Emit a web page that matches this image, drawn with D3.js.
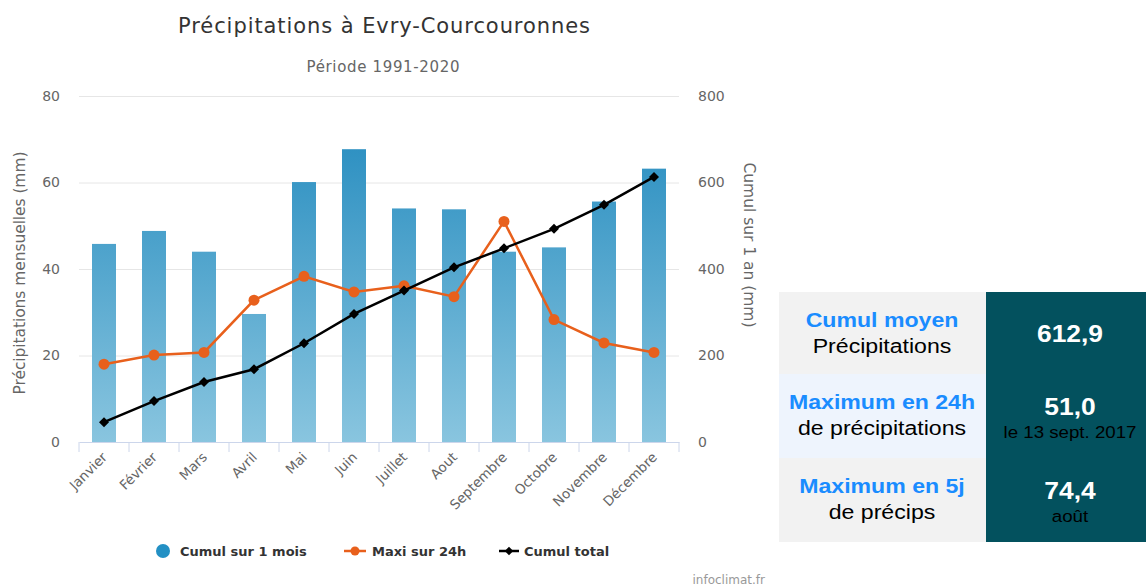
<!DOCTYPE html>
<html><head><meta charset="utf-8">
<script src="https://cdn.jsdelivr.net/npm/d3@7"></script>
<style>
html,body{margin:0;padding:0;background:#fff;}
svg{display:block;}
.ch{font-family:"DejaVu Sans",sans-serif;}
.pn{font-family:"Liberation Sans",Arial,sans-serif;}
</style></head>
<body>
<svg id="c" width="1146" height="588"></svg>
<script>
const months = ["Janvier","Février","Mars","Avril","Mai","Juin","Juillet","Aout","Septembre","Octobre","Novembre","Décembre"];
const cumulMois = [45.8,48.8,44.0,29.6,60.1,67.7,54.0,53.8,44.0,45.0,55.6,63.2];
const maxi24h = [18.0,20.1,20.7,32.8,38.3,34.7,36.1,33.6,51.0,28.3,22.9,20.7];
const cumulTotal = [45.8,94.6,138.6,168.2,228.3,296.0,350.0,403.8,447.8,492.8,548.4,612.9];
const leftTicks = [0,20,40,60,80];
const rightTicks = [0,200,400,600,800];
const legendItems = ["Cumul sur 1 mois","Maxi sur 24h","Cumul total"];
const panelRows = [
  {t1:"Cumul moyen", t2:"Précipitations", v:"612,9", s:""},
  {t1:"Maximum en 24h", t2:"de précipitations", v:"51,0", s:"le 13 sept. 2017"},
  {t1:"Maximum en 5j", t2:"de précips", v:"74,4", s:"août"}
];
const FONT = '"DejaVu Sans", sans-serif';

const svg = d3.select("#c");
svg.append("rect").attr("width",1146).attr("height",588).attr("fill","#fff");
const g = svg.append("g").attr("class","ch");

const pTop = 96, pBottom = 442, pLeft = 79, pRight = 679;
const x = d3.scaleBand().domain(months).range([pLeft,pRight]).padding(0);
const yL = d3.scaleLinear().domain([0,80]).range([pBottom,pTop]);
const yR = d3.scaleLinear().domain([0,800]).range([pBottom,pTop]);

const defs = svg.append("defs");
const grad = defs.append("linearGradient").attr("id","bg").attr("gradientUnits","userSpaceOnUse")
  .attr("x1",0).attr("y1",pTop).attr("x2",0).attr("y2",pBottom);
grad.append("stop").attr("offset","0%").attr("stop-color","#1f88bd");
grad.append("stop").attr("offset","100%").attr("stop-color","#89c5df");

g.append("text").attr("x",384).attr("y",32.5).attr("text-anchor","middle").attr("font-size",21).attr("fill","#333")
  .attr("textLength",412).attr("lengthAdjust","spacing").text("Précipitations à Evry-Courcouronnes");
g.append("text").attr("x",383).attr("y",72).attr("text-anchor","middle").attr("font-size",15).attr("fill","#666")
  .attr("textLength",153).attr("lengthAdjust","spacing").text("Période 1991-2020");

g.append("g").selectAll("line").data(leftTicks.filter(d=>d>0)).join("line")
  .attr("x1",pLeft).attr("x2",pRight).attr("y1",d=>yL(d)+0.5).attr("y2",d=>yL(d)+0.5)
  .attr("stroke","#e6e6e6").attr("stroke-width",1);

const ax = d3.axisLeft(yL).tickValues(leftTicks).tickSize(0).tickPadding(19);
const gl = g.append("g").attr("transform",`translate(${pLeft},0)`).call(ax)
  .attr("font-family",FONT).attr("font-size",14);
gl.select(".domain").remove();
gl.selectAll("text").attr("fill","#666");
const axr = d3.axisRight(yR).tickValues(rightTicks).tickSize(0).tickPadding(19);
const gr = g.append("g").attr("transform",`translate(${pRight},0)`).call(axr)
  .attr("font-family",FONT).attr("font-size",14);
gr.select(".domain").remove();
gr.selectAll("text").attr("fill","#666");

g.append("text").attr("transform","translate(25,273) rotate(-90)").attr("text-anchor","middle")
  .attr("font-size",15.5).attr("fill","#666").attr("textLength",243).attr("lengthAdjust","spacing").text("Précipitations mensuelles (mm)");
g.append("text").attr("transform","translate(744,245) rotate(90)").attr("text-anchor","middle")
  .attr("font-size",15.5).attr("fill","#666").attr("textLength",165).attr("lengthAdjust","spacing").text("Cumul sur 1 an (mm)");

const bw = 24;
g.append("g").selectAll("rect").data(months).join("rect")
  .attr("x",(d)=>x(d)+x.bandwidth()/2-bw/2).attr("width",bw)
  .attr("y",(d,i)=>yL(cumulMois[i])).attr("height",(d,i)=>pBottom-yL(cumulMois[i]))
  .attr("fill","url(#bg)");

const xa = d3.axisBottom(x).tickSize(10).tickSizeOuter(0).tickFormat(()=>"");
const gx = g.append("g").attr("transform",`translate(0,${pBottom})`).call(xa)
  .attr("font-family",FONT).attr("font-size",13.5);
gx.select(".domain").attr("stroke","#ccd6eb");
gx.selectAll(".tick line").attr("stroke","#ccd6eb").attr("transform",`translate(${-x.bandwidth()/2},0)`);
gx.append("line").attr("x1",pRight).attr("x2",pRight).attr("y1",0).attr("y2",10).attr("stroke","#ccd6eb");
gx.selectAll(".tick").append("text").attr("fill","#666")
  .attr("text-anchor","end").attr("transform","translate(4,16) rotate(-45)")
  .text(d=>d);

const cx = d=>x(d)+x.bandwidth()/2;
const lineO = d3.line().x((d,i)=>cx(months[i])).y(d=>yL(d));
g.append("path").datum(maxi24h).attr("d",lineO).attr("fill","none").attr("stroke","#e8601c").attr("stroke-width",2.5);
g.append("g").selectAll("circle").data(maxi24h).join("circle")
  .attr("cx",(d,i)=>cx(months[i])).attr("cy",d=>yL(d)).attr("r",5.5).attr("fill","#e8601c");
const lineB = d3.line().x((d,i)=>cx(months[i])).y(d=>yR(d));
g.append("path").datum(cumulTotal).attr("d",lineB).attr("fill","none").attr("stroke","#000").attr("stroke-width",2.5);
g.append("g").selectAll("path").data(cumulTotal).join("path")
  .attr("transform",(d,i)=>`translate(${cx(months[i])},${yR(d)}) rotate(45)`)
  .attr("d",d3.symbol().type(d3.symbolSquare).size(50)).attr("fill","#000");

const lg = g.append("g").attr("font-size",13).attr("font-weight","bold").attr("fill","#333");
lg.append("circle").attr("cx",163).attr("cy",551).attr("r",7).attr("fill","#2390c4");
lg.append("text").attr("x",180).attr("y",556).text(legendItems[0]);
lg.append("line").attr("x1",344).attr("x2",366).attr("y1",551).attr("y2",551).attr("stroke","#e8601c").attr("stroke-width",2.5);
lg.append("circle").attr("cx",355).attr("cy",551).attr("r",4.5).attr("fill","#e8601c");
lg.append("text").attr("x",372).attr("y",556).text(legendItems[1]);
lg.append("line").attr("x1",499).attr("x2",519).attr("y1",551).attr("y2",551).attr("stroke","#000").attr("stroke-width",2.5);
lg.append("path").attr("transform","translate(509,551) rotate(45)").attr("d",d3.symbol().type(d3.symbolSquare).size(36)).attr("fill","#000");
lg.append("text").attr("x",524).attr("y",556).text(legendItems[2]);

g.append("text").attr("x",765).attr("y",584).attr("text-anchor","end").attr("font-size",12).attr("fill","#999").text("infoclimat.fr");

const pn = svg.append("g").attr("class","pn");
const rowY = [292,374,458,542];
const leftBg = ["#f2f2f2","#eef4fd","#f2f2f2"];
panelRows.forEach((r,i)=>{
  const y0 = rowY[i], h = rowY[i+1]-y0;
  pn.append("rect").attr("x",779).attr("y",y0).attr("width",207).attr("height",h).attr("fill",leftBg[i]);
  pn.append("rect").attr("x",986).attr("y",y0).attr("width",160).attr("height",h).attr("fill","#03515e");
  const lc = 882, rc = 1070;
  const t = (xx,yy,txt,size,weight,fill)=>pn.append("text")
    .attr("transform",`translate(${xx},${yy}) scale(1.1,1)`).attr("text-anchor","middle")
    .attr("font-size",size).attr("font-weight",weight).attr("fill",fill).text(txt);
  t(lc,y0+35,r.t1,21,"bold","#1a8cff");
  t(lc,y0+61,r.t2,21,"normal","#000");
  if(r.s){
    t(rc,y0+41,r.v,24,"bold","#fff");
    t(rc,y0+64,r.s,17,"normal","#000");
  } else {
    t(rc,y0+50,r.v,24,"bold","#fff");
  }
});
</script>
</body></html>
